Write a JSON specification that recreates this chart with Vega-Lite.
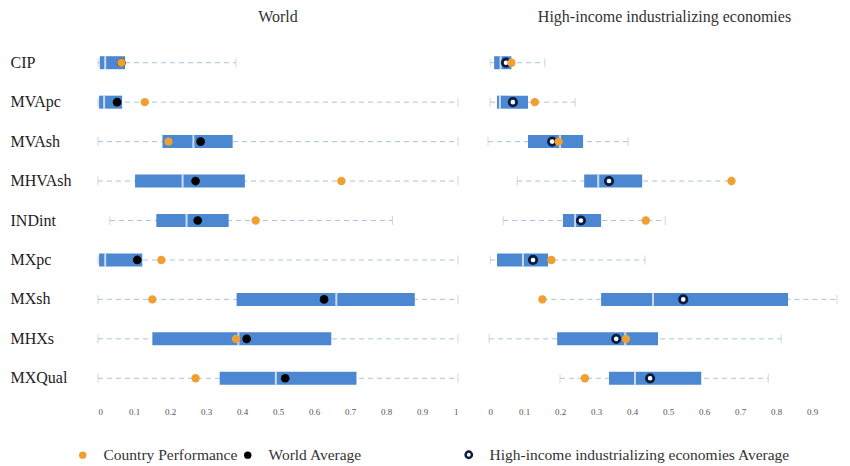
{
  "$schema": "https://vega.github.io/schema/vega-lite/v6.json",
  "padding": {"left": 10, "top": 9, "right": 0, "bottom": 0},
  "background": "white",
  "spacing": 28,
  "config": {
    "view": {"stroke": null},
    "font": "Liberation Serif",
    "title": {"font": "Liberation Serif", "fontSize": 16, "fontWeight": "normal", "color": "#333333", "offset": 18},
    "axisX": {"title": null, "domain": false, "ticks": false, "grid": false, "labelFont": "Liberation Serif", "labelFontSize": 9, "labelColor": "#555555", "labelPadding": 9, "format": "~g", "labelOverlap": false}
  },
  "datasets": {
    "world": [
      {"indicator": "CIP", "min": 0, "q1": 0.005, "median": 0.02, "q3": 0.075, "max": 0.383, "avg": 0.065, "country": 0.065},
      {"indicator": "MVApc", "min": 0, "q1": 0.003, "median": 0.017, "q3": 0.067, "max": 1.0, "avg": 0.053, "country": 0.13},
      {"indicator": "MVAsh", "min": 0, "q1": 0.179, "median": 0.265, "q3": 0.374, "max": 1.0, "avg": 0.285, "country": 0.196},
      {"indicator": "MHVAsh", "min": 0, "q1": 0.103, "median": 0.235, "q3": 0.408, "max": 1.0, "avg": 0.271, "country": 0.676},
      {"indicator": "INDint", "min": 0.033, "q1": 0.162, "median": 0.246, "q3": 0.363, "max": 0.818, "avg": 0.277, "country": 0.438},
      {"indicator": "MXpc", "min": 0, "q1": 0.003, "median": 0.02, "q3": 0.123, "max": 1.0, "avg": 0.109, "country": 0.176},
      {"indicator": "MXsh", "min": 0, "q1": 0.385, "median": 0.662, "q3": 0.88, "max": 1.0, "avg": 0.628, "country": 0.151},
      {"indicator": "MHXs", "min": 0, "q1": 0.151, "median": 0.39, "q3": 0.648, "max": 1.0, "avg": 0.413, "country": 0.383},
      {"indicator": "MXQual", "min": 0, "q1": 0.338, "median": 0.494, "q3": 0.718, "max": 1.0, "avg": 0.52, "country": 0.271}
    ],
    "hi": [
      {"indicator": "CIP", "min": 0.006, "q1": 0.017, "median": 0.035, "q3": 0.065, "max": 0.158, "avg": 0.05, "country": 0.065},
      {"indicator": "MVApc", "min": 0.006, "q1": 0.025, "median": 0.033, "q3": 0.111, "max": 0.242, "avg": 0.069, "country": 0.13},
      {"indicator": "MVAsh", "min": 0, "q1": 0.111, "median": 0.2, "q3": 0.264, "max": 0.389, "avg": 0.178, "country": 0.196},
      {"indicator": "MHVAsh", "min": 0.081, "q1": 0.267, "median": 0.306, "q3": 0.428, "max": 0.676, "avg": 0.336, "country": 0.676},
      {"indicator": "INDint", "min": 0.042, "q1": 0.208, "median": 0.242, "q3": 0.314, "max": 0.492, "avg": 0.258, "country": 0.438},
      {"indicator": "MXpc", "min": 0.006, "q1": 0.025, "median": 0.097, "q3": 0.167, "max": 0.436, "avg": 0.125, "country": 0.176},
      {"indicator": "MXsh", "min": 0.151, "q1": 0.314, "median": 0.458, "q3": 0.833, "max": 0.969, "avg": 0.542, "country": 0.151},
      {"indicator": "MHXs", "min": 0.003, "q1": 0.192, "median": 0.381, "q3": 0.472, "max": 0.814, "avg": 0.356, "country": 0.383},
      {"indicator": "MXQual", "min": 0.2, "q1": 0.336, "median": 0.408, "q3": 0.592, "max": 0.778, "avg": 0.45, "country": 0.269}
    ]
  },
  "hconcat": [
    {
      "width": 360,
      "height": 355,
      "title": "World",
      "data": {"name": "world"},
      "encoding": {
        "y": {
          "field": "indicator", "type": "nominal",
          "sort": ["CIP", "MVApc", "MVAsh", "MHVAsh", "INDint", "MXpc", "MXsh", "MHXs", "MXQual"],
          "scale": {"paddingInner": 0, "paddingOuter": 0},
          "axis": {"title": null, "domain": false, "ticks": false, "labelAlign": "left", "labelPadding": 88, "labelFont": "Liberation Serif", "labelFontSize": 16, "labelColor": "#222222", "labelLimit": 0}
        }
      },
      "layer": [
        {
          "mark": {"type": "rule", "color": "#a9c2e6", "strokeDash": [5, 4], "strokeWidth": 1},
          "encoding": {
            "x": {"field": "min", "type": "quantitative", "scale": {"domain": [0, 1], "nice": false}, "axis": {"values": [0, 0.1, 0.2, 0.3, 0.4, 0.5, 0.6, 0.7, 0.8, 0.9, 1], "labelOverlap": false}},
            "x2": {"field": "max"}
          }
        },
        {"mark": {"type": "tick", "color": "#c4c4c4", "thickness": 1, "size": 9}, "encoding": {"x": {"field": "min", "type": "quantitative", "axis": {"values": [0, 0.1, 0.2, 0.3, 0.4, 0.5, 0.6, 0.7, 0.8, 0.9, 1], "labelOverlap": false}}}},
        {"mark": {"type": "tick", "color": "#c4c4c4", "thickness": 1, "size": 9}, "encoding": {"x": {"field": "max", "type": "quantitative", "axis": {"values": [0, 0.1, 0.2, 0.3, 0.4, 0.5, 0.6, 0.7, 0.8, 0.9, 1], "labelOverlap": false}}}},
        {"mark": {"type": "bar", "color": "#4c87d2", "size": 13}, "encoding": {"x": {"field": "q1", "type": "quantitative", "axis": {"values": [0, 0.1, 0.2, 0.3, 0.4, 0.5, 0.6, 0.7, 0.8, 0.9, 1], "labelOverlap": false}}, "x2": {"field": "q3"}}},
        {"mark": {"type": "tick", "color": "#ffffff", "thickness": 2, "size": 13}, "encoding": {"x": {"field": "median", "type": "quantitative", "axis": {"values": [0, 0.1, 0.2, 0.3, 0.4, 0.5, 0.6, 0.7, 0.8, 0.9, 1], "labelOverlap": false}}}},
        {
          "mark": {"type": "point", "filled": true, "size": 75, "opacity": 1, "strokeWidth": 0},
          "encoding": {
            "x": {"field": "avg", "type": "quantitative", "axis": {"values": [0, 0.1, 0.2, 0.3, 0.4, 0.5, 0.6, 0.7, 0.8, 0.9, 1], "labelOverlap": false}},
            "fill": {"datum": "World Average", "type": "nominal",
              "scale": {"domain": ["Country Performance", "World Average"], "range": ["#f0a030", "#000000"]},
              "legend": {"title": null, "orient": "none", "legendX": -23, "legendY": 404, "direction": "horizontal", "labelFont": "Liberation Serif", "labelFontSize": 15.5, "labelColor": "#333333", "symbolSize": 55, "symbolStrokeWidth": 0, "symbolType": "circle", "columnPadding": 2, "labelOffset": 13, "labelLimit": 0}}
          }
        },
        {
          "mark": {"type": "point", "filled": true, "size": 70, "opacity": 1, "strokeWidth": 0},
          "encoding": {
            "x": {"field": "country", "type": "quantitative", "axis": {"values": [0, 0.1, 0.2, 0.3, 0.4, 0.5, 0.6, 0.7, 0.8, 0.9, 1], "labelOverlap": false}},
            "fill": {"datum": "Country Performance", "type": "nominal"}
          }
        }
      ]
    },
    {
      "width": 353,
      "height": 355,
      "title": "High-income industrializing economies",
      "data": {"name": "hi"},
      "encoding": {
        "y": {
          "field": "indicator", "type": "nominal",
          "sort": ["CIP", "MVApc", "MVAsh", "MHVAsh", "INDint", "MXpc", "MXsh", "MHXs", "MXQual"],
          "scale": {"paddingInner": 0, "paddingOuter": 0},
          "axis": null
        }
      },
      "layer": [
        {
          "mark": {"type": "rule", "color": "#a9c2e6", "strokeDash": [5, 4], "strokeWidth": 1},
          "encoding": {
            "x": {"field": "min", "type": "quantitative", "scale": {"domain": [0, 0.98], "nice": false}, "axis": {"values": [0, 0.1, 0.2, 0.3, 0.4, 0.5, 0.6, 0.7, 0.8, 0.9], "labelOverlap": false}},
            "x2": {"field": "max"}
          }
        },
        {"mark": {"type": "tick", "color": "#c4c4c4", "thickness": 1, "size": 9}, "encoding": {"x": {"field": "min", "type": "quantitative", "axis": {"values": [0, 0.1, 0.2, 0.3, 0.4, 0.5, 0.6, 0.7, 0.8, 0.9], "labelOverlap": false}}}},
        {"mark": {"type": "tick", "color": "#c4c4c4", "thickness": 1, "size": 9}, "encoding": {"x": {"field": "max", "type": "quantitative", "axis": {"values": [0, 0.1, 0.2, 0.3, 0.4, 0.5, 0.6, 0.7, 0.8, 0.9], "labelOverlap": false}}}},
        {"mark": {"type": "bar", "color": "#4c87d2", "size": 13}, "encoding": {"x": {"field": "q1", "type": "quantitative", "axis": {"values": [0, 0.1, 0.2, 0.3, 0.4, 0.5, 0.6, 0.7, 0.8, 0.9], "labelOverlap": false}}, "x2": {"field": "q3"}}},
        {"mark": {"type": "tick", "color": "#ffffff", "thickness": 2, "size": 13}, "encoding": {"x": {"field": "median", "type": "quantitative", "axis": {"values": [0, 0.1, 0.2, 0.3, 0.4, 0.5, 0.6, 0.7, 0.8, 0.9], "labelOverlap": false}}}},
        {
          "mark": {"type": "point", "filled": true, "fill": "#ffffff", "size": 55, "opacity": 1, "strokeWidth": 2.8},
          "encoding": {
            "x": {"field": "avg", "type": "quantitative", "axis": {"values": [0, 0.1, 0.2, 0.3, 0.4, 0.5, 0.6, 0.7, 0.8, 0.9], "labelOverlap": false}},
            "stroke": {"datum": "High-income industrializing economies Average", "type": "nominal",
              "scale": {"domain": ["High-income industrializing economies Average"], "range": ["#0c1c40"]},
              "legend": {"title": null, "orient": "none", "legendX": 363, "legendY": 404, "direction": "horizontal", "labelFont": "Liberation Serif", "labelFontSize": 15.5, "labelColor": "#333333", "symbolSize": 40, "symbolStrokeWidth": 2.5, "symbolFillColor": "#ffffff", "symbolType": "circle", "labelOffset": 13, "labelLimit": 0}}
          }
        },
        {
          "mark": {"type": "point", "filled": true, "size": 70, "opacity": 1, "strokeWidth": 0},
          "encoding": {
            "x": {"field": "country", "type": "quantitative", "axis": {"values": [0, 0.1, 0.2, 0.3, 0.4, 0.5, 0.6, 0.7, 0.8, 0.9], "labelOverlap": false}},
            "fill": {"datum": "Country Performance", "type": "nominal"}
          }
        }
      ]
    }
  ]
}
